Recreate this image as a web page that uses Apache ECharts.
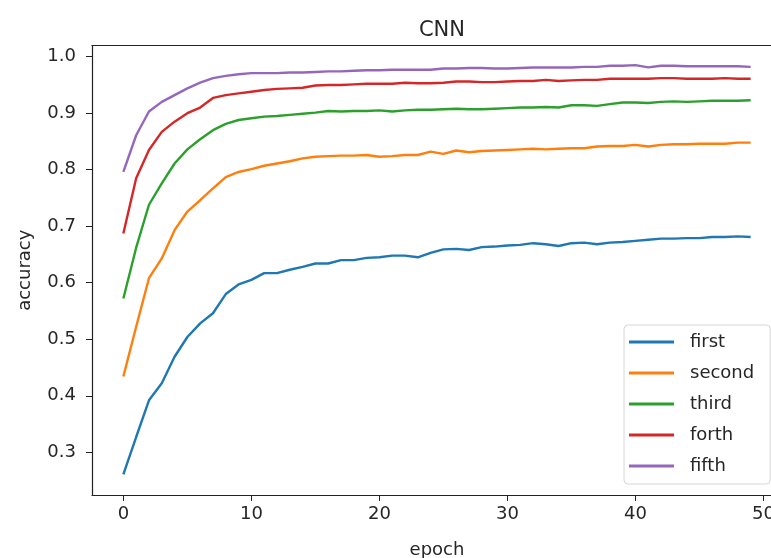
<!DOCTYPE html>
<html>
<head>
<meta charset="utf-8">
<script src="https://cdn.jsdelivr.net/npm/echarts@6/dist/echarts.min.js"></script>
<style>
    html, body { margin: 0; padding: 0; background: #fff; }
    #ET1 { width: 771px; height: 558px; }
</style>
</head>
<body>
<div id="ET1"></div>
<script>
var names = ['first', 'second', 'third', 'forth', 'fifth'];
var colors = ['#1f77b4', '#ff7f0e', '#2ca02c', '#d62728', '#9467bd'];
var xTicks = [0, 10, 20, 30, 40, 50];
var yTicks = [0.3, 0.4, 0.5, 0.6, 0.7, 0.8, 0.9, 1.0];

var first = [0.261, 0.327, 0.392, 0.422, 0.469, 0.504, 0.528, 0.546, 0.580, 0.597,
             0.605, 0.617, 0.617, 0.623, 0.628, 0.634, 0.634, 0.640, 0.640, 0.644,
             0.645, 0.648, 0.648, 0.645, 0.653, 0.659, 0.660, 0.658, 0.663, 0.664,
             0.666, 0.667, 0.670, 0.668, 0.665, 0.670, 0.671, 0.668, 0.671, 0.672,
             0.674, 0.676, 0.678, 0.678, 0.679, 0.679, 0.681, 0.681, 0.682, 0.681];
var second = [0.434, 0.522, 0.608, 0.643, 0.693, 0.726, 0.746, 0.767, 0.787, 0.796,
              0.801, 0.807, 0.811, 0.815, 0.820, 0.823, 0.824, 0.825, 0.825, 0.826,
              0.823, 0.824, 0.826, 0.826, 0.832, 0.828, 0.834, 0.831, 0.833, 0.834,
              0.835, 0.836, 0.837, 0.836, 0.837, 0.838, 0.838, 0.841, 0.842, 0.842,
              0.844, 0.841, 0.844, 0.845, 0.845, 0.846, 0.846, 0.846, 0.848, 0.848];
var third = [0.572, 0.662, 0.738, 0.776, 0.811, 0.836, 0.854, 0.870, 0.881, 0.888,
             0.891, 0.894, 0.895, 0.897, 0.899, 0.901, 0.904, 0.903, 0.904, 0.904,
             0.905, 0.903, 0.905, 0.906, 0.906, 0.907, 0.908, 0.907, 0.907, 0.908,
             0.909, 0.910, 0.910, 0.911, 0.910, 0.914, 0.914, 0.913, 0.916, 0.919,
             0.919, 0.918, 0.920, 0.921, 0.920, 0.921, 0.922, 0.922, 0.922, 0.923];
var forth = [0.687, 0.785, 0.835, 0.867, 0.885, 0.900, 0.910, 0.927, 0.932, 0.935,
             0.938, 0.941, 0.943, 0.944, 0.945, 0.949, 0.950, 0.950, 0.951, 0.952,
             0.952, 0.952, 0.954, 0.953, 0.953, 0.954, 0.956, 0.956, 0.955, 0.955,
             0.956, 0.957, 0.957, 0.959, 0.957, 0.958, 0.959, 0.959, 0.961, 0.961,
             0.961, 0.961, 0.962, 0.962, 0.961, 0.961, 0.961, 0.962, 0.961, 0.961];
var fifth = [0.796, 0.861, 0.903, 0.920, 0.932, 0.944, 0.954, 0.962, 0.966, 0.969,
             0.971, 0.971, 0.971, 0.972, 0.972, 0.973, 0.974, 0.974, 0.975, 0.976,
             0.976, 0.977, 0.977, 0.977, 0.977, 0.979, 0.979, 0.980, 0.980, 0.979,
             0.979, 0.980, 0.981, 0.981, 0.981, 0.981, 0.982, 0.982, 0.984, 0.984,
             0.985, 0.981, 0.984, 0.984, 0.983, 0.983, 0.983, 0.983, 0.983, 0.982];

~function () {
    var myChart = echarts.init(document.getElementById('ET1'));
    var font = 'DejaVu Sans';
    var dark = '#262626';
    var seriesData = [first, second, third, forth, fifth];

    var series = seriesData.map(function (vals, i) {
        return {
            name: names[i],
            type: 'line',
            symbol: 'none',
            data: vals.map(function (v, k) { return [k, v]; }),
            lineStyle: {color: colors[i], width: 2.4},
            itemStyle: {color: colors[i]}
        };
    });

    // the right spine of the original sits just past the picture edge
    var option = {
        animation: false,
        backgroundColor: '#fff',
        title: {
            text: 'CNN',
            left: 437,
            top: 15,
            textAlign: 'center',
            textStyle: {fontFamily: font, fontSize: 21, fontWeight: 'normal', color: dark}
        },
        legend: {
            orient: 'vertical',
            left: 624,
            top: 325,
            padding: [7, 16, 8, 5],
            itemGap: 11,
            itemWidth: 45,
            itemHeight: 3,
            icon: 'rect',
            backgroundColor: 'rgba(255,255,255,0.8)',
            borderColor: '#d6d6d6',
            borderWidth: 1,
            borderRadius: 4,
            textStyle: {fontFamily: font, fontSize: 18, color: dark, lineHeight: 20, padding: [0, 0, 0, 11]},
            data: names
        },
        grid: {
            left: 92,
            top: 45.5,
            bottom: 63,
            right: -11,
            show: false,
            outerBoundsMode: 'none',
            containLabel: false
        },
        xAxis: [
            {
                type: 'value',
                min: -2.45,
                max: 51.45,
                name: 'epoch',
                nameLocation: 'middle',
                nameGap: 46,
                nameTextStyle: {fontFamily: font, fontSize: 18, color: dark},
                splitLine: {show: false},
                axisLine: {show: true, onZero: false, lineStyle: {color: '#222', width: 1.2}},
                axisTick: {show: true, customValues: xTicks, length: 6, lineStyle: {color: '#222'}},
                axisLabel: {customValues: xTicks, margin: 10, fontFamily: font, fontSize: 18, color: dark}
            },
            {
                type: 'value',
                position: 'top',
                min: -2.45,
                max: 51.45,
                splitLine: {show: false},
                axisLine: {show: true, onZero: false, lineStyle: {color: '#222', width: 1.2}},
                axisTick: {show: false},
                axisLabel: {show: false}
            }
        ],
        yAxis: {
            type: 'value',
            min: 0.2244,
            max: 1.0198,
            name: 'accuracy',
            nameLocation: 'middle',
            nameGap: 58,
            nameTextStyle: {fontFamily: font, fontSize: 18, color: dark},
            splitLine: {show: false},
            axisLine: {show: true, onZero: false, lineStyle: {color: '#222', width: 1.2}},
            axisTick: {show: true, customValues: yTicks, length: 6, lineStyle: {color: '#222'}},
            axisLabel: {
                customValues: yTicks,
                margin: 16,
                fontFamily: font,
                fontSize: 18,
                color: dark,
                formatter: function (v) { return v.toFixed(1); }
            }
        },
        series: series
    };
    myChart.setOption(option);
}();
</script>
</body>
</html>
